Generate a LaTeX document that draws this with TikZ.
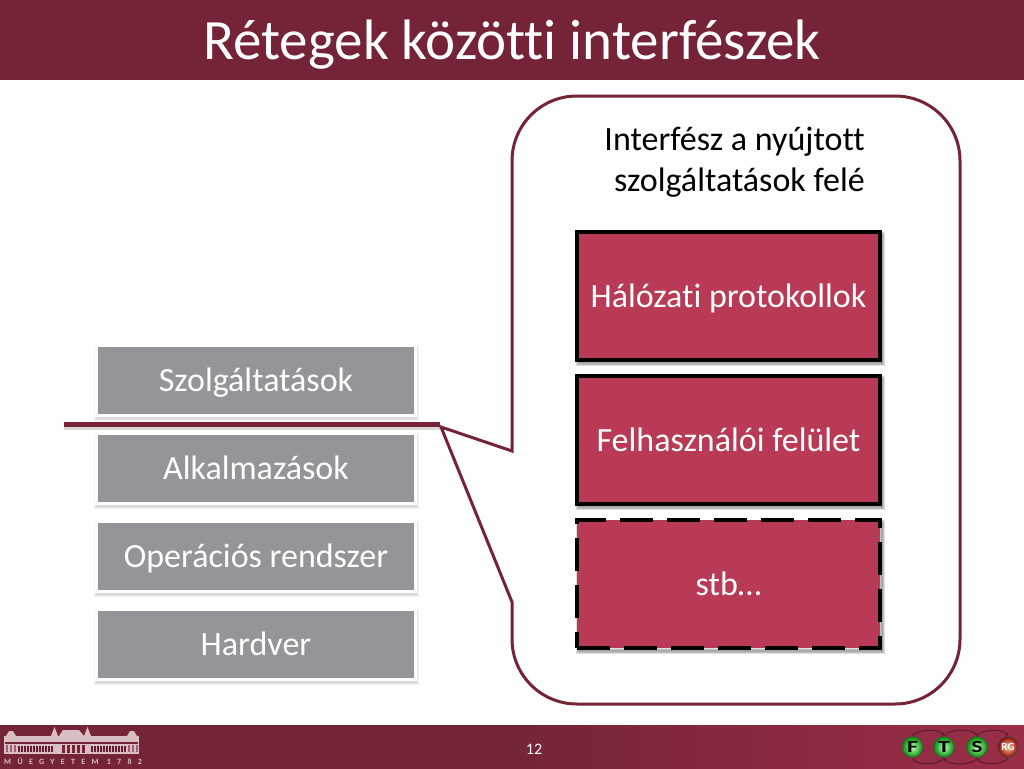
\documentclass[tikz,border=0pt]{standalone}
\usepackage{fontspec}
\setmainfont[Ligatures=NoCommon]{Carlito}
\usetikzlibrary{arrows.meta}
\definecolor{bardark}{HTML}{752437}
\definecolor{barlight}{HTML}{9A2E47}
\definecolor{boxred}{HTML}{B83A54}
\definecolor{boxgray}{HTML}{939598}
\definecolor{bldg}{HTML}{D9BEC2}
\tikzset{
  x=1pt,y=-1pt,
  softg/.style={preaction={draw=black,draw opacity=.05,fill=none,line width=#1,transform canvas={yshift=-2.5pt}}},
  softr/.style={preaction={draw=black,solid,draw opacity=.13,fill=none,line width=#1,transform canvas={xshift=2pt,yshift=-3pt}}},
  graybox/.style={draw=white,line width=3pt,fill=boxgray,minimum width=319pt,minimum height=70pt,inner sep=0pt,text=white,font=\fontsize{34}{40}\selectfont,
    text height=24pt,text depth=2pt,softg=6pt,softg=4pt,softg=2pt},
  redbox/.style={draw=black,line width=4pt,fill=boxred,minimum width=303pt,minimum height=128pt,inner sep=0pt,text=white,font=\fontsize{34}{40}\selectfont,
    text height=24pt,text depth=2pt,softr=6pt,softr=4pt,softr=2pt},
  dashbox/.style={redbox,dash pattern=on 33pt off 14pt},
  bar/.style={inner sep=0pt,outer sep=0pt,minimum width=1024pt},
  footlogo/.style={circle,draw=black!70,line width=.8pt,minimum size=21pt,inner sep=0pt,font=\bfseries\fontsize{17}{17}\selectfont\addfontfeatures{FakeStretch=1.4},text=black,inner color=green!25!white,outer color=green!55!black},
  logoloop/.style={draw=bardark!75!black,line width=.9pt,-{Stealth[length=3.5pt]},looseness=.7},
  bldgpart/.style={fill=bldg,draw=none}
}
\begin{document}
\begin{tikzpicture}
\useasboundingbox (0,0) rectangle (1024,768);
\fill[white] (0,0) rectangle (1024,768);
% bars
\node[bar,anchor=north west,minimum height=80pt,fill=bardark] (title) at (0,0) {};
\node[text=white,font=\fontsize{57}{60}\selectfont,inner sep=0pt] (titletext) at (512,44.5) {Rétegek közötti interfészek};
\shade[left color=bardark,right color=barlight,middle color=bardark] (0,725) rectangle (1024,768);
\coordinate (footanchor) at (534,749);
\node[text=white,font=\fontsize{16}{18}\selectfont,inner sep=0pt] (pageno) at (footanchor) {12};
% callout
\coordinate (tip) at (441,427);
\coordinate (calloutA) at (512,451);
\coordinate (calloutB) at (512,602);
\draw[bardark,line width=3pt,line join=miter,fill=white]
  (tip) -- (calloutA) -- (512,161) .. controls (512,125) and (541,96) .. (577,96)
  -- (895,96) .. controls (931,96) and (960,125) .. (960,161) -- (960,639)
  .. controls (960,675) and (931,704) .. (895,704) -- (577,704)
  .. controls (541,704) and (512,675) .. (512,639) -- (calloutB) -- cycle;
\node[align=right,font=\fontsize{34}{41}\selectfont,text=black,inner sep=0pt,anchor=east] (head) at (865,162) {Interfész a nyújtott\\szolgáltatások felé};
% red boxes
\node[redbox] (proto) at (728.5,296) {Hálózati protokollok};
\node[redbox] (ui) at (728.5,440) {Felhasználói felület};
\node[dashbox] (etc) at (728.5,584) {stb…};
% gray stack
\node[graybox] (svc) at (256,380.5) {Szolgáltatások};
\node[graybox] (app) at (256,468.5) {Alkalmazások};
\node[graybox] (os) at (256,556.5) {Operációs rendszer};
\node[graybox] (hw) at (256,644.5) {Hardver};
% divider
\coordinate (divL) at (64,424);
\coordinate (divR) at (440,424);
\draw[black,draw opacity=.15,line width=5pt] ([yshift=-3pt]divL) -- ([yshift=-3pt]divR);
\draw[bardark,line width=5pt] (divL) -- (divR);
% university logo
\fill[bldgpart] (4,736) rectangle (139,754);
\fill[bardark] (5,742) rectangle (138,743.5);
\foreach \x in {18,21,...,51,91,94,...,124}{\fill[bardark!85!black] (\x,746) rectangle ++(1.6,6);}
\foreach \x in {62,67,...,82}{\fill[bardark] (\x,745) rectangle ++(3,8);}
\foreach \x in {6,10,14,128,132,136}{\fill[bardark!60!bldg] (\x,745) rectangle ++(2,7);}
\fill[bldgpart] (6,736) -- (9,731) -- (13,731) -- (16,736) -- cycle;
\fill[bldgpart] (127,736) -- (130,731) -- (134,731) -- (137,736) -- cycle;
\fill[bldgpart] (59,736) -- (63,730) -- (79,730) -- (84,736) -- cycle;
\fill[bldgpart] (51,736) -- (54.5,727) -- (58,736) -- cycle;
\fill[bldgpart] (84,736) -- (87.5,727) -- (91,736) -- cycle;
\node[text=bldg,font=\bfseries\fontsize{8}{8}\selectfont,inner sep=0pt,anchor=west] (uni) at (4,761) {\addfontfeatures{LetterSpace=79}MŰEGYETEM\ 1782};
% FTSRG logo
\node[footlogo] (F) at (912.5,747) {F};
\node[footlogo] (T) at (944,747) {T};
\node[footlogo] (S) at (977,747) {S};
\node[footlogo,inner color=orange!40!white,outer color=red!55!black,font=\bfseries\fontsize{11}{11}\selectfont,text=white] (RG) at (1008,747) {RG};
\draw[logoloop] (F.north) to[out=60,in=120] (T.north);
\draw[logoloop] (T.north) to[out=60,in=120] (S.north);
\draw[logoloop] (S.north) to[out=60,in=120] (RG.north);
\draw[logoloop] (T.south) to[out=-120,in=-60] (F.south);
\draw[logoloop] (S.south) to[out=-120,in=-60] (T.south);
\draw[logoloop] (RG.south) to[out=-120,in=-60] (S.south);
\end{tikzpicture}
\end{document}
